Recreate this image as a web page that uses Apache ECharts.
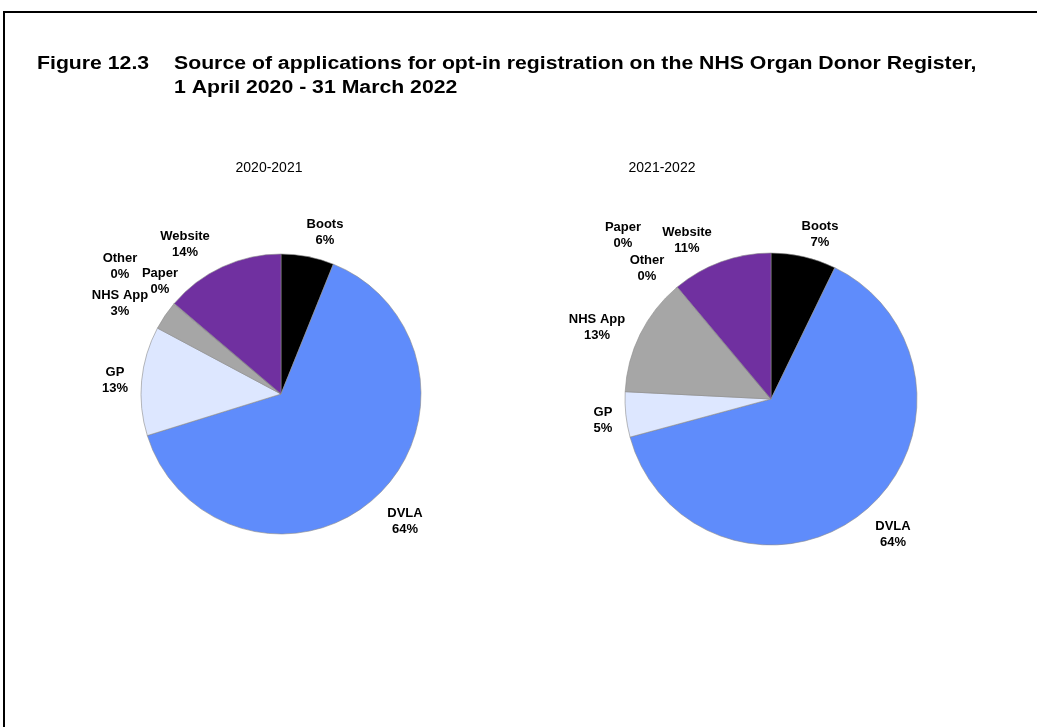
<!DOCTYPE html>
<html>
<head>
<meta charset="utf-8">
<script src="https://cdn.jsdelivr.net/npm/echarts@6/dist/echarts.min.js"></script>
<style>
html, body { margin: 0; padding: 0; background: #fff; }
#wrap { position: relative; width: 1037px; height: 727px; overflow: hidden; }
#frame { position: absolute; left: 3px; top: 11px; width: 1200px; height: 900px; border: 2px solid #000; box-sizing: border-box; }
#chart { position: absolute; left: 0; top: 0; width: 1037px; height: 727px; }
</style>
</head>
<body>
<div id="wrap">
  <div id="frame"></div>
  <div id="chart"></div>
</div>
<script>
// ---- data ----
var categories = ['Boots', 'DVLA', 'GP', 'NHS App', 'Other', 'Paper', 'Website'];
var values2021 = [6.1, 64.1, 12.6, 3.3, 0.05, 0.05, 13.8];
var values2122 = [7.2, 63.6, 5.0, 13.0, 0.05, 0.05, 11.1];
var pieTitles = ['2020-2021', '2021-2022'];
var figureTitle = 'Figure 12.3';
var titleLines = ['Source of applications for opt-in registration on the NHS Organ Donor Register,', '1 April 2020 - 31 March 2022'];

// ---- styles ----
var colors = ['#000000', '#5F8CFB', '#DDE7FF', '#A6A6A6', '#FFFFFF', '#FFFFFF', '#7030A0'];
var FONT = '"Liberation Sans", Arial, sans-serif';
var TITLE_FONT = 'bold 18px ' + FONT;
var TITLE_SCALE = 1.18;

// label anchor positions (centre of each two-line label)
var labelPos1 = [[325, 232], [405, 521], [115, 380], [120, 303], [120, 266], [160, 281], [185, 244]];
var labelPos2 = [[820, 234], [893, 534], [603, 420], [597, 327], [647, 268], [623, 235], [687, 240]];

function buildData(vals) {
  return categories.map(function (c, i) {
    return { name: c, value: vals[i], itemStyle: { color: colors[i] } };
  });
}

function pieSeries(vals, center, radius, pos) {
  return {
    type: 'pie',
    center: center,
    radius: radius,
    startAngle: 90,
    clockwise: true,
    avoidLabelOverlap: false,
    animation: false,
    silent: true,
    data: buildData(vals),
    itemStyle: { borderColor: '#8c8c8c', borderWidth: 0.6 },
    label: {
      show: true,
      position: 'outside',
      color: '#000',
      fontFamily: FONT,
      fontWeight: 'bold',
      fontSize: 13,
      lineHeight: 16,
      align: 'center',
      formatter: function (p) { return p.name + '\n' + Math.round(p.percent) + '%'; }
    },
    labelLine: { show: false },
    labelLayout: function (p) {
      var xy = pos[p.dataIndex];
      return { x: xy[0], y: xy[1], align: 'center', verticalAlign: 'middle' };
    }
  };
}

function titleText(txt, x, y) {
  return { type: 'text', x: x, y: y, scaleX: TITLE_SCALE,
    style: { text: txt, font: TITLE_FONT, fill: '#000', textAlign: 'left', textVerticalAlign: 'middle' } };
}

var chart = echarts.init(document.getElementById('chart'), null, { renderer: 'canvas' });
chart.setOption({
  backgroundColor: 'transparent',
  graphic: [
    titleText(figureTitle, 37, 64),
    titleText(titleLines[0], 174, 64),
    titleText(titleLines[1], 174, 88),
    { type: 'text', x: 269, y: 168, style: { text: pieTitles[0], font: '14px ' + FONT, fill: '#000', textAlign: 'center', textVerticalAlign: 'middle' } },
    { type: 'text', x: 662, y: 168, style: { text: pieTitles[1], font: '14px ' + FONT, fill: '#000', textAlign: 'center', textVerticalAlign: 'middle' } }
  ],
  series: [
    pieSeries(values2021, [281, 394], 140, labelPos1),
    pieSeries(values2122, [771, 399], 146, labelPos2)
  ]
});
</script>
</body>
</html>
